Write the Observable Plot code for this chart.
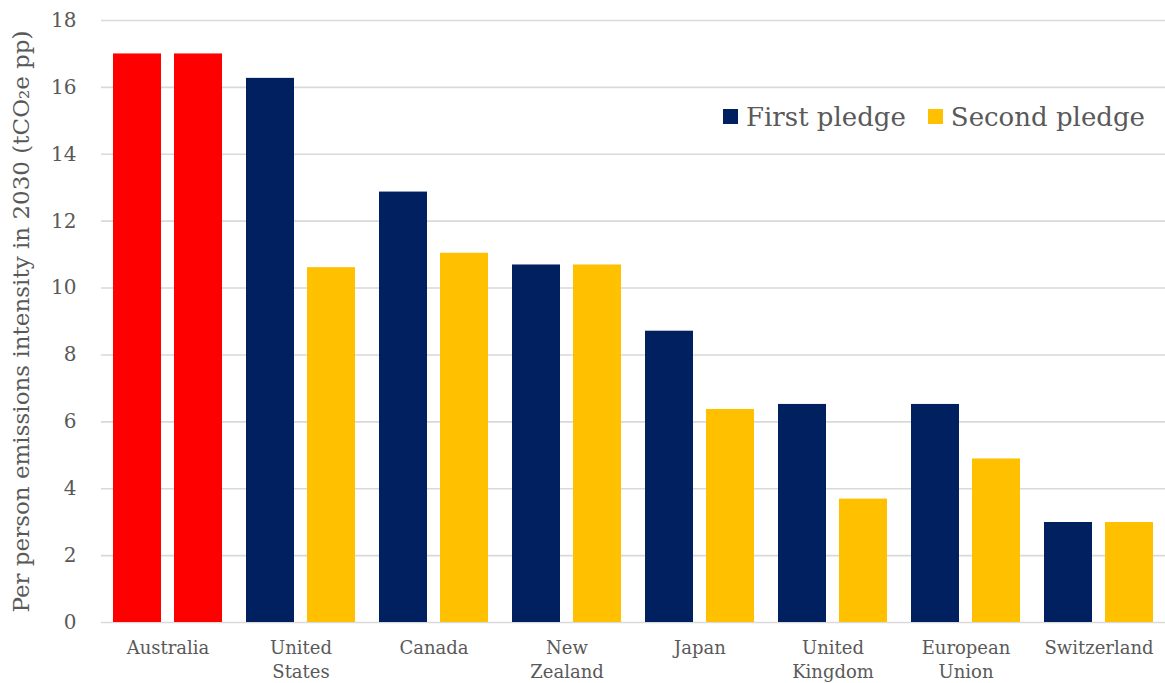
<!DOCTYPE html>
<html>
<head>
<meta charset="utf-8">
<script src="https://cdn.jsdelivr.net/npm/d3@7"></script>
<script src="https://cdn.jsdelivr.net/npm/@observablehq/plot@0.6"></script>
<style>
  html, body { margin: 0; padding: 0; background: #fff; overflow: hidden; }
  #chart { position: relative; width: 1165px; height: 683px; overflow: hidden; }
  #legend { position: absolute; left: 723px; top: 100px; width: 480px; flex-wrap: nowrap !important; white-space: nowrap; }
  .lg-swatch { margin-right: 22px !important; }
  .lg-swatch > svg { margin-right: 8px !important; }
</style>
</head>
<body>
<div id="chart"></div>
<script>
const countries = ["Australia", "United States", "Canada", "New Zealand", "Japan", "United Kingdom", "European Union", "Switzerland"];
const tickLabels = ["Australia", "United\nStates", "Canada", "New\nZealand", "Japan", "United\nKingdom", "European\nUnion", "Switzerland"];
const firstPledge = [17.0, 16.27, 12.87, 10.69, 8.71, 6.52, 6.52, 2.99];
const secondPledge = [17.0, 10.61, 11.04, 10.69, 6.37, 3.69, 4.89, 2.99];
const seriesNames = ["First pledge", "Second pledge"];
const highlightName = "Australia";
const colorDomain = ["Australia", "First pledge", "Second pledge"];
const colorRange = ["#ff0000", "#002060", "#ffc000"];
const yTicks = [0, 2, 4, 6, 8, 10, 12, 14, 16, 18];
const yLabel = "Per person emissions intensity in 2030 (tCO\u2082e pp)";

const rows = countries.map((c, i) => ({country: c, first: firstPledge[i], second: secondPledge[i]}));
const labelOf = new Map(countries.map((c, i) => [c, tickLabels[i]]));

const font = "DejaVu Serif";
const textColor = "#595959";

const chart = Plot.plot({
  width: 1165,
  height: 683,
  marginLeft: 101,
  marginRight: 0,
  marginTop: 20,
  marginBottom: 61,
  style: {fontFamily: font, fontSize: "18px", color: textColor, background: "#fff"},
  x: {type: "band", domain: countries, padding: 0},
  y: {domain: [0, 18]},
  color: {domain: colorDomain, range: colorRange},
  marks: [
    Plot.gridY(yTicks, {stroke: "#d9d9d9", strokeOpacity: 1, strokeWidth: 1.6}),
    Plot.barY(rows, {
      x: "country", y: "first",
      fill: d => d.country === highlightName ? highlightName : seriesNames[0],
      insetLeft: 12, insetRight: 73
    }),
    Plot.barY(rows, {
      x: "country", y: "second",
      fill: d => d.country === highlightName ? highlightName : seriesNames[1],
      insetLeft: 73, insetRight: 12
    }),
    Plot.axisY({
      ticks: yTicks, tickSize: 0, tickPadding: 25,
      fontSize: 20, fill: textColor,
      label: yLabel, labelAnchor: "center", labelOffset: 89, labelArrow: "none"
    }),
    Plot.axisX({
      tickSize: 0, tickPadding: 14, fontSize: 18, fill: textColor,
      tickFormat: d => labelOf.get(d), lineHeight: 1.35, label: null
    })
  ]
});

chart.querySelectorAll("text").forEach(t => {
  if (t.textContent === yLabel) t.setAttribute("font-size", "23");
});

const container = document.getElementById("chart");
container.appendChild(chart);

const legend = Plot.legend({
  color: {type: "ordinal", domain: seriesNames, range: colorRange.slice(1)},
  swatchSize: 15,
  className: "lg",
  style: {fontFamily: font, fontSize: "26px", color: textColor}
});
legend.id = "legend";
container.appendChild(legend);
</script>
</body>
</html>
